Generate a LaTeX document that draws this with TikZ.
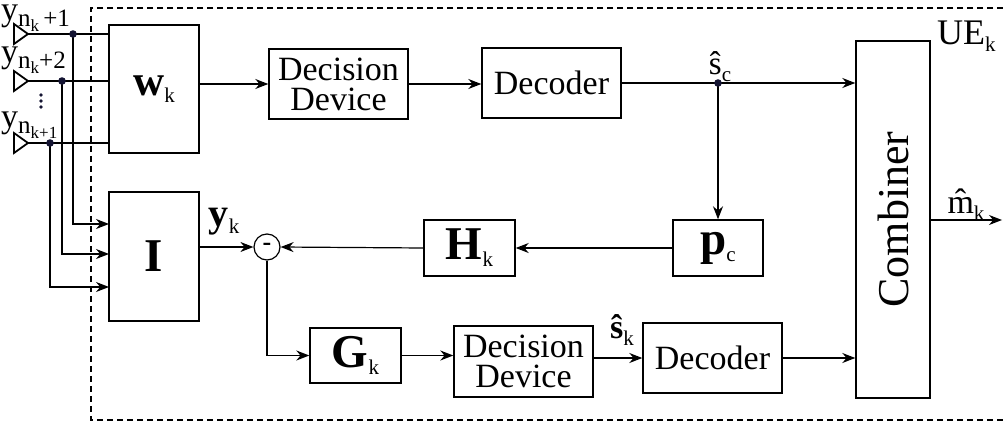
\documentclass[tikz,border=0pt]{standalone}
\usepackage{fontspec}
\setmainfont{Liberation Serif}
\usepackage{tikz}
\usetikzlibrary{arrows.meta}
\usetikzlibrary{calc}
\definecolor{dotc}{RGB}{20,20,50}
\newcommand{\lsub}[1]{\raisebox{-7pt}{\fontsize{21}{21}\selectfont\mdseries #1}}
\newcommand{\nsub}[1]{\raisebox{-6pt}{\fontsize{25}{25}\selectfont #1}}
\newcommand{\ssub}[1]{\raisebox{-5pt}{\fontsize{17}{17}\selectfont #1}}

\begin{document}
\begin{tikzpicture}[x=1pt,y=-1pt,
  blk/.style={draw,line width=1.4pt,inner sep=0pt,align=center,font=\fontsize{34}{30}\selectfont},
  bold/.style={font=\fontsize{47}{47}\selectfont\bfseries},
  lbl/.style={inner sep=0pt,font=\fontsize{33}{33}\selectfont},
  wire/.style={line width=1.2pt},
  >={Stealth[length=13pt,width=10pt]}]
  \useasboundingbox (0,0) rectangle (1003,425);
  \draw[line width=1.4pt,dash pattern=on 6pt off 4pt] (1003,8) -- (91,8) -- (91,420) -- (1003,420);

  \node[blk,bold,font=\fontsize{43}{43}\selectfont\bfseries,minimum width=90pt,minimum height=128pt] (W) at (154,89) {w\lsub{k}};
  \node[blk,bold,minimum width=90pt,minimum height=129pt] (I) at (154,256.5) {I};
  \node[blk,minimum width=139pt,minimum height=70pt] (dd1) at (338.5,84) {Decision\\Device};
  \node[blk,minimum width=139pt,minimum height=70pt] (dec1) at (551.5,83) {Decoder};
  \node[blk,minimum width=74pt,minimum height=357pt] (comb) at (893,219.5) {};
  \node[rotate=90,inner sep=0pt,font=\fontsize{44}{44}\selectfont] at (comb) {Combiner};
  \node[blk,bold,minimum width=90pt,minimum height=56pt] (pc) at (718,248) {p\lsub{c}};
  \node[blk,bold,minimum width=91pt,minimum height=56pt] (hk) at (469.5,248) {H\lsub{k}};
  \node[draw,circle,line width=1.2pt,minimum size=26pt,inner sep=0pt,font=\fontsize{26}{26}\selectfont\bfseries] (sum) at (267,247) {-};
  \node[blk,bold,minimum width=91pt,minimum height=55pt] (gk) at (355.5,355.5) {G\lsub{k}};
  \node[blk,minimum width=139pt,minimum height=71pt] (dd2) at (523.5,361.5) {Decision\\Device};
  \node[blk,minimum width=139pt,minimum height=70pt] (dec2) at (712.5,358) {Decoder};

  \foreach \n/\y in {1/34,2/81,3/143} {
    \coordinate (t\n) at (28,\y);
    \draw[line width=1.8pt] (t\n) -- ++(-14,-10) -- ++(0,20) -- cycle;
    \draw[line width=1.6pt] (t\n) -- (t\n -| W.west);
  }
  \foreach \y in {95,101,107} \fill[dotc] (41,\y) circle (1.9);
  \node[anchor=base west,inner sep=0pt,font=\fontsize{34}{34}\selectfont] (y1) at (1,21) {y\nsub{n\ssub{k}\,+1}};
  \node[anchor=base west,inner sep=0pt,font=\fontsize{34}{34}\selectfont] (y2) at (1,63) {y\nsub{n\ssub{k}+2}};
  \node[anchor=base west,inner sep=0pt,font=\fontsize{34}{34}\selectfont] (y3) at (1,128) {y\nsub{n\ssub{k+1}}};

  \coordinate (j1) at (73,34);
  \coordinate (j2) at (62,81);
  \coordinate (j3) at (50,143);
  \coordinate (i1) at (109,224);
  \coordinate (i2) at (109,254);
  \coordinate (i3) at (109,287);
  \foreach \n in {1,2,3} {
    \draw[wire,->] (j\n) |- (i\n);
    \fill[dotc] (j\n) circle (3.8);
  }

  \draw[wire,->] (W.east |- dd1.west) -- (dd1.west);
  \draw[wire,->] (dd1.east) -- (dd1.east -| dec1.west);
  \coordinate (sc) at (pc.north |- dec1.east);
  \draw[wire,->] (dec1.east) -- (dec1.east -| comb.west);
  \draw[wire,->] (sc) -- (pc.north);
  \fill[dotc] (sc) circle (3.8);
  \node[lbl,anchor=base] (schat) at (720,75) {\^{s}\lsub{c}};
  \node[anchor=base west,inner sep=0pt,font=\fontsize{36}{36}\selectfont] (ue) at (937,45) {UE\lsub{k}};

  \draw[wire,->] (pc.west) -- (hk.east);
  \draw[wire,->] (hk.west) -- (sum.east);
  \draw[wire,->] (I.east |- sum) -- (sum.west);
  \node[lbl,anchor=base,font=\fontsize{40}{40}\selectfont\bfseries] (yk) at (224,226) {y\lsub{k}};
  \draw[wire,->] (sum.south) |- (gk.west);
  \draw[wire,->] (gk.east) -- (gk.east -| dd2.west);
  \draw[wire,->] (dd2.east |- dec2.west) -- (dec2.west);
  \node[lbl,anchor=base,font=\fontsize{34}{34}\selectfont\bfseries] (skhat) at (622,338) {\^{s}\lsub{k}};
  \draw[wire,->] (dec2.east) -- (dec2.east -| comb.west);

  \coordinate (out) at (1002,220);
  \draw[wire,->] (comb.east |- out) -- (out);
  \node[lbl,anchor=base,font=\fontsize{34}{34}\selectfont] (mhat) at (966,213) {\^{m}\lsub{k}};
\end{tikzpicture}
\end{document}
